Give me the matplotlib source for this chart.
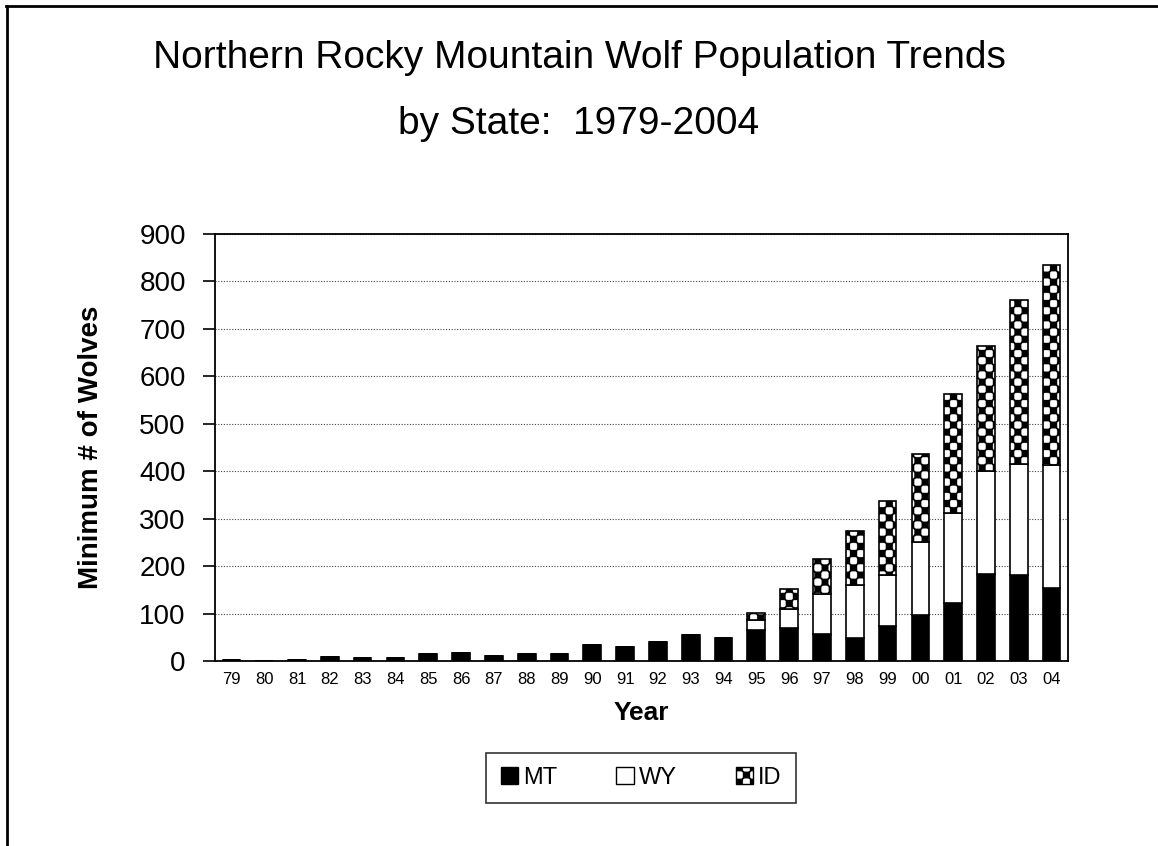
import numpy as np
import matplotlib
matplotlib.use("Agg")
import matplotlib.pyplot as plt
from matplotlib import hatch as mhatch
from matplotlib.path import Path
from matplotlib.patches import Patch
from matplotlib.lines import Line2D

# ---------------- data ----------------
years = ['79', '80', '81', '82', '83', '84', '85', '86', '87', '88', '89', '90', '91',
         '92', '93', '94', '95', '96', '97', '98', '99', '00', '01', '02', '03', '04']
mt = [2, 1, 2, 8, 6, 6, 14, 17, 11, 15, 15, 33, 29, 41, 55, 48, 66, 70, 56, 49, 74, 97, 123, 183, 182, 153]
wy = [0, 0, 0, 0, 0, 0, 0, 0, 0, 0, 0, 0, 0, 0, 0, 0, 21, 40, 86, 112, 107, 153, 189, 217, 234, 260]
id_ = [0, 0, 0, 0, 0, 0, 0, 0, 0, 0, 0, 0, 0, 0, 0, 0, 14, 42, 74, 114, 156, 187, 251, 263, 345, 422]
series_labels = ['MT', 'WY', 'ID']
yticks = [0, 100, 200, 300, 400, 500, 600, 700, 800, 900]

# ------------- checkerboard hatch (replaces the '*' pattern) -------------
CELLS = 14
NPTS = 5


def rounded_square(cx, cy, h, r):
    pts = []
    corners = [(cx + h - r, cy + h - r, 0), (cx - h + r, cy + h - r, 90),
               (cx - h + r, cy - h + r, 180), (cx + h - r, cy - h + r, 270)]
    for ox, oy, a0 in corners:
        for t in np.linspace(a0, a0 + 90, NPTS):
            pts.append((ox + r * np.cos(np.radians(t)), oy + r * np.sin(np.radians(t))))
    return pts


class CheckerHatch(mhatch.HatchPatternBase):
    def __init__(self, hatch, density):
        on = hatch.count('*') > 0
        self.n = CELLS
        self.per = 4 * NPTS + 1
        self.cells = ([(i, j) for i in range(self.n) for j in range(self.n) if (i + j) % 2 == 0]
                      if on else [])
        self.num_vertices = len(self.cells) * self.per

    def set_vertices_and_codes(self, vertices, codes):
        c = 1.0 / self.n
        k = 0
        for i, j in self.cells:
            pts = rounded_square((i + 0.5) * c, (j + 0.5) * c, 0.47 * c, 0.25 * c)
            vertices[k:k + self.per - 1] = pts
            vertices[k + self.per - 1] = pts[0]
            codes[k] = Path.MOVETO
            codes[k + 1:k + self.per - 1] = Path.LINETO
            codes[k + self.per - 1] = Path.CLOSEPOLY
            k += self.per


mhatch._hatch_types = [t for t in mhatch._hatch_types if t is not mhatch.Stars] + [CheckerHatch]
plt.rcParams['hatch.linewidth'] = 0.3
plt.rcParams['font.family'] = ['Liberation Sans', 'DejaVu Sans']

# ---------------- figure ----------------
fig = plt.figure(figsize=(11.58, 8.46), dpi=100)
ax = fig.add_axes([215 / 1158, 1 - 661 / 846, (1068 - 215) / 1158, (661 - 234) / 846])

x = np.arange(len(years))
w = 0.54
mt_a = np.array(mt)
wy_a = np.array(wy)
id_a = np.array(id_)

ax.bar(x, mt_a, w, color='black', edgecolor='black', linewidth=1.2, zorder=3)
ax.bar(x, wy_a, w, bottom=mt_a, color='white', edgecolor='black', linewidth=1.2, zorder=3)
ax.bar(x, id_a, w, bottom=mt_a + wy_a, color='black', edgecolor='white', linewidth=0,
       hatch='*', zorder=3)
ax.bar(x, id_a, w, bottom=mt_a + wy_a, fill=False, edgecolor='black', linewidth=1.2, zorder=4)

ax.set_xlim(-0.5, len(years) - 0.5)
ax.set_ylim(0, 900)
ax.set_yticks(yticks)
ax.set_yticklabels([str(v) for v in yticks], fontsize=20)
ax.set_xticks(x)
ax.set_xticklabels(years, fontsize=12)
ax.tick_params(axis='x', length=0, pad=8)
ax.tick_params(axis='y', length=9, width=1.2, direction='out', pad=12)
for s in ax.spines.values():
    s.set_linewidth(1.3)
    s.set_color('black')
ax.yaxis.grid(True, linestyle=(0, (1, 1.5)), color='#444444', linewidth=0.8)
ax.set_axisbelow(True)

ax.set_ylabel('Minimum # of Wolves', fontsize=20, fontweight='bold')
ax.yaxis.set_label_coords(-0.130, 0.5)
ax.set_xlabel('Year', fontsize=19, fontweight='bold', labelpad=10)

fig.text(0.5, 1 - 58 / 846, 'Northern Rocky Mountain Wolf Population Trends',
         ha='center', va='center', fontsize=28)
fig.text(0.5, 1 - 124 / 846, 'by State:  1979-2004', ha='center', va='center', fontsize=28)

h_mt = Patch(facecolor='black', edgecolor='black', linewidth=1)
h_wy = Patch(facecolor='white', edgecolor='black', linewidth=1)
h_id1 = Patch(facecolor='black', edgecolor='white', linewidth=0, hatch='*')
h_id2 = Patch(fill=False, edgecolor='black', linewidth=1)
leg = fig.legend([h_mt, h_wy, (h_id1, h_id2)], series_labels, ncol=3,
                 loc='center', bbox_to_anchor=(641 / 1158, 1 - 778 / 846),
                 fontsize=17, frameon=True, fancybox=False, edgecolor='black',
                 handlelength=0.75, handleheight=0.75, handletextpad=0.2,
                 columnspacing=2.5, borderpad=0.6)
leg.get_frame().set_linewidth(1.2)

# outer frame (top and left edges)
fig.add_artist(Line2D([6 / 1158, 1.0], [1 - 6 / 846, 1 - 6 / 846], color='black',
                      linewidth=2, transform=fig.transFigure))
fig.add_artist(Line2D([7 / 1158, 7 / 1158], [0, 1 - 6 / 846], color='black',
                      linewidth=2, transform=fig.transFigure))

fig.savefig('out.png', dpi=100, facecolor='white')
